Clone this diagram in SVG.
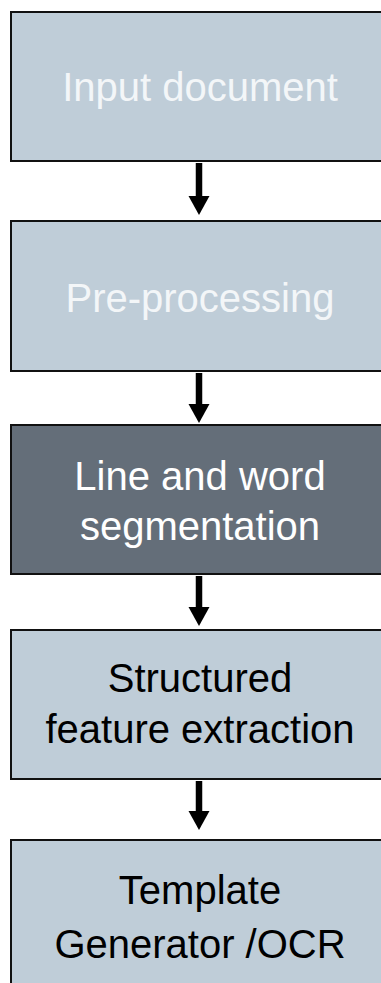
<svg xmlns="http://www.w3.org/2000/svg" width="381" height="983" viewBox="0 0 381 983">
<style>
.box{stroke:#111;stroke-width:2}
.light{fill:#bfcdd8}
.dark{fill:#646e79}
text{font-family:"Liberation Sans",Arial,sans-serif;font-size:40px;text-anchor:middle}
.pale{fill:#f3f6f8}
.white{fill:#ffffff}
.black{fill:#000000}
.shaft{stroke:#000;stroke-width:6.5;fill:none}
.head{fill:#000}
</style>
<g id="node-input">
<rect class="box light" x="11" y="12" width="380" height="149"/>
<text class="pale" x="200" y="101">Input document</text>
</g>
<g id="node-preprocessing">
<rect class="box light" x="11" y="221" width="380" height="150"/>
<text class="pale" x="200" y="312">Pre-processing</text>
</g>
<g id="node-segmentation">
<rect class="box dark" x="11" y="425" width="380" height="149"/>
<text class="white" x="200" y="490">Line and word</text>
<text class="white" x="200" y="540">segmentation</text>
</g>
<g id="node-features">
<rect class="box light" x="11" y="630" width="380" height="149"/>
<text class="black" x="200" y="692">Structured</text>
<text class="black" x="200" y="743">feature extraction</text>
</g>
<g id="node-template">
<rect class="box light" x="11" y="840" width="380" height="160"/>
<text class="black" x="200" y="904">Template</text>
<text class="black" x="200" y="958">Generator /OCR</text>
</g>
<g id="connectors">
<line class="shaft" x1="199" y1="163" x2="199" y2="197"/>
<polygon class="head" points="188.5,196 209.5,196 199,215"/>
<line class="shaft" x1="199" y1="373" x2="199" y2="405"/>
<polygon class="head" points="188.5,404 209.5,404 199,423"/>
<line class="shaft" x1="199" y1="576" x2="199" y2="608"/>
<polygon class="head" points="188.5,607 209.5,607 199,626"/>
<line class="shaft" x1="199" y1="781" x2="199" y2="812"/>
<polygon class="head" points="188.5,811 209.5,811 199,830"/>
</g>
</svg>
